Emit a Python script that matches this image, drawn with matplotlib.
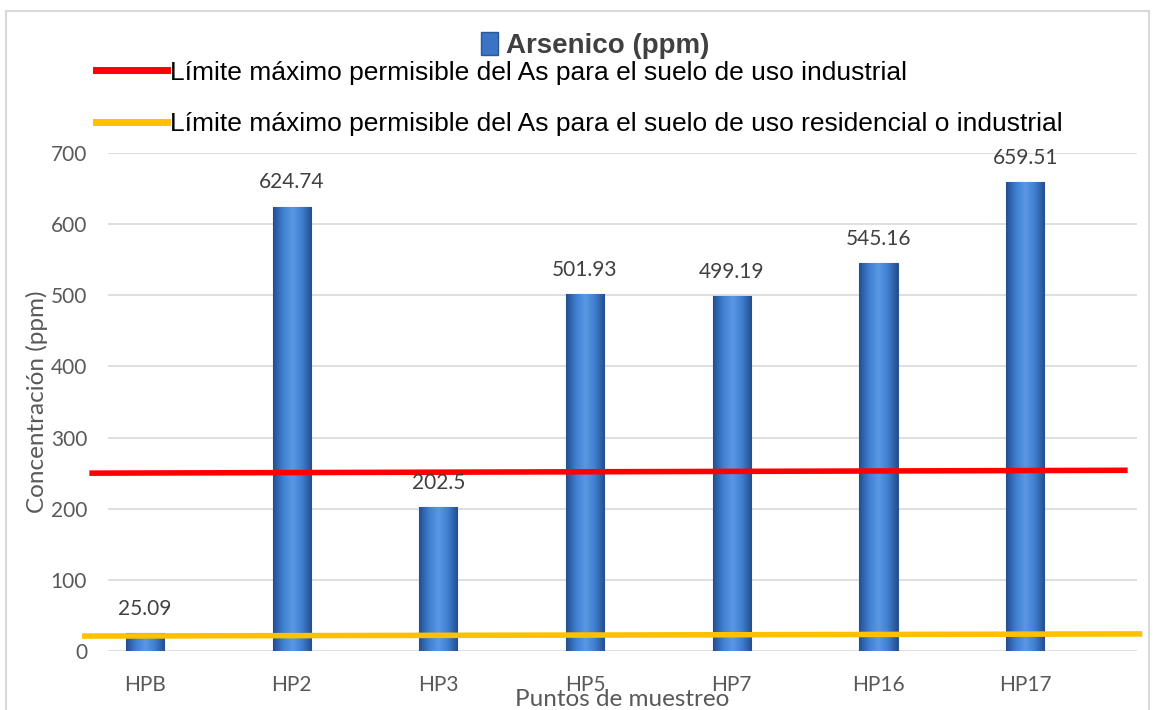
import numpy as np
import matplotlib.pyplot as plt
from matplotlib.lines import Line2D
from matplotlib.patches import Patch, Rectangle
from matplotlib.colors import LinearSegmentedColormap

puntos = ['HPB', 'HP2', 'HP3', 'HP5', 'HP7', 'HP16', 'HP17']
arsenico = [25.09, 624.74, 202.5, 501.93, 499.19, 545.16, 659.51]

# limit lines (drawn slightly tilted as in the original)
lim_ind_x = [-0.36, 6.68]
lim_ind_y = [250, 254]
lim_res_x = [-0.41, 6.78]
lim_res_y = [21, 24]

plt.rcParams['font.family'] = ['Lato', 'DejaVu Sans']

fig = plt.figure(figsize=(11.61, 7.10), dpi=100)
ax = fig.add_axes([0.093, 0.0831, 0.886, 0.7014])

x = np.arange(len(puntos))
w = 0.26
bars = ax.bar(x, arsenico, width=w, color='#3B74C2', edgecolor='#2B5797', linewidth=0.8, zorder=2)

# horizontal gradient inside each bar
cmap = LinearSegmentedColormap.from_list('b', ['#234F8E', '#3F7FD0', '#5A98E4', '#3F7FD0', '#234F8E'])
grad = np.linspace(0, 1, 64).reshape(1, -1)
for b in bars:
    im = ax.imshow(grad, cmap=cmap, aspect='auto', zorder=3,
                   extent=(b.get_x(), b.get_x() + b.get_width(), 0, b.get_height()))
    im.set_clip_path(b)

for xi, v in zip(x, arsenico):
    ax.text(xi, v + 20, f'{v:g}', ha='center', va='bottom', fontsize=15, color='#404040', zorder=5)

ax.plot(lim_ind_x, lim_ind_y, color='#FF0000', lw=4, zorder=4, clip_on=False)
ax.plot(lim_res_x, lim_res_y, color='#FFC000', lw=4, zorder=4, clip_on=False)

ax.set_xlim(-0.252, 6.76)
ax.set_ylim(0, 700)
ax.set_yticks(range(0, 701, 100))
ax.set_xticks(x)
ax.set_xticklabels(puntos)
ax.grid(axis='y', color='#D9D9D9', lw=1.2, zorder=0)
ax.set_axisbelow(True)
for s in ax.spines.values():
    s.set_visible(False)
ax.tick_params(length=0, labelsize=15, labelcolor='#595959', pad=17)
ax.tick_params(axis='y', pad=15)
ax.set_ylabel('Concentración (ppm)', fontsize=17.5, color='#595959', labelpad=2)
ax.set_xlabel('Puntos de muestreo', fontsize=17.5, color='#595959', labelpad=-4)

leg1 = fig.legend(handles=[Patch(facecolor='#3B74C2', edgecolor='#2B5797')],
                  labels=['Arsenico (ppm)'], loc='upper center', bbox_to_anchor=(0.513, 0.99),
                  frameon=False, handlelength=0.6, handleheight=0.9, handletextpad=0.3,
                  prop={'family': 'Liberation Sans', 'weight': 'bold', 'size': 20})
for t in leg1.get_texts():
    t.set_color('#404040')

fig.legend(handles=[Line2D([], [], color='#FF0000', lw=5), Line2D([], [], color='#FFC000', lw=5)],
           labels=['Límite máximo permisible del As para el suelo de uso industrial',
                   'Límite máximo permisible del As para el suelo de uso residencial o industrial'],
           loc='upper left', bbox_to_anchor=(0.062, 0.948), frameon=False,
           handlelength=2.7, handletextpad=0.1, labelspacing=1.05,
           prop={'family': 'Liberation Sans', 'size': 19})

fig.patches.append(Rectangle((0.005, -0.01), 0.985, 0.995, transform=fig.transFigure,
                             fill=False, edgecolor='#D9D9D9', lw=1.5))

fig.savefig('out.png', dpi=100)
